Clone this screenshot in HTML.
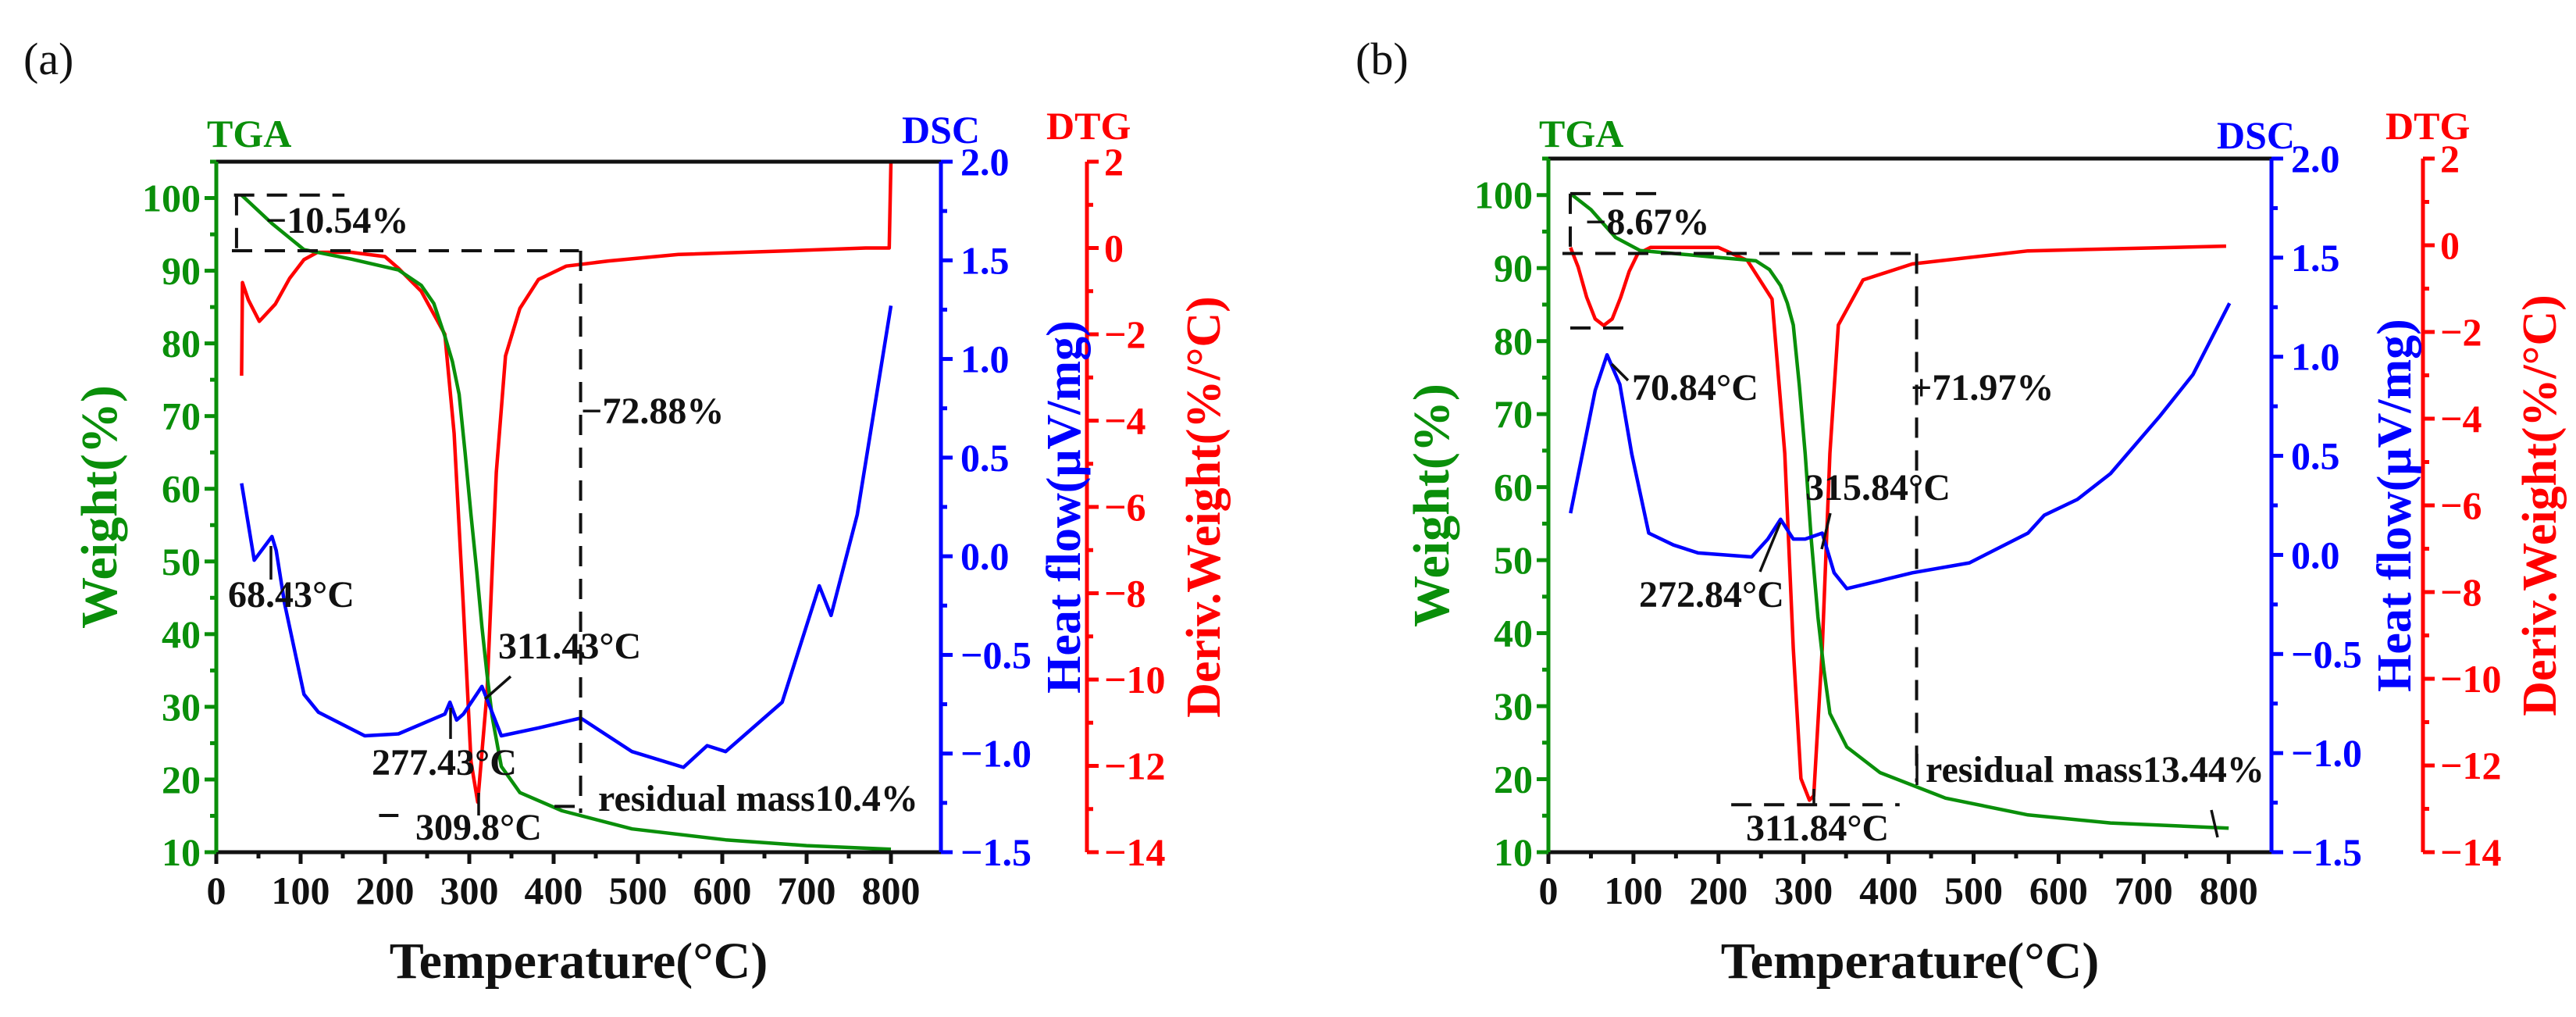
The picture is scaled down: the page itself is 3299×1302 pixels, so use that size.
<!DOCTYPE html>
<html>
<head>
<meta charset="utf-8">
<style>
html,body{margin:0;padding:0;background:#fff;}
svg{display:block;}
text{font-family:"Liberation Serif","DejaVu Serif",serif;font-weight:bold;}
</style>
</head>
<body>
<svg id="fig" xmlns="http://www.w3.org/2000/svg" width="3299" height="1302" viewBox="0 0 3299 1302">
<rect x="0" y="0" width="3299" height="1302" fill="#fff"/>
</svg>
<script>
// ---------- data (panel a) ----------
const tgaA_T = [30,66,104,160,216,243,258,271,280,288,295,302,309,315,321,327,338,360,410,493,604,700,800];
const tgaA_W = [100.4,96.5,92.9,91.6,90.1,88,85.5,81,77.5,73,65,56.4,48.5,41,34.5,28.7,21.8,18.2,15.7,13.2,11.7,10.9,10.4];
const dtgA_T = [30,31,38,51,70,87,104,120,160,200,216,243,271,282,293,302,310,321,332,343,360,382,415,465,548,700,770,798,800];
const dtgA_V = [-2.96,-0.8,-1.2,-1.7,-1.3,-0.7,-0.27,-0.1,-0.1,-0.2,-0.47,-1.0,-2.0,-4.3,-8.3,-11.9,-12.84,-10.3,-5.2,-2.5,-1.4,-0.73,-0.42,-0.3,-0.15,-0.05,0,0,2];
const dscA_T = [30,45,66,71,81,104,121,176,216,271,277,285,293,315,338,382,432,493,554,582,604,671,715,729,760,800];
const dscA_V = [0.37,-0.02,0.1,0.03,-0.24,-0.7,-0.79,-0.91,-0.9,-0.8,-0.74,-0.83,-0.8,-0.66,-0.91,-0.87,-0.82,-0.99,-1.07,-0.96,-0.99,-0.74,-0.15,-0.3,0.21,1.27];
// ---------- data (panel b) ----------
const tgaB_T = [26,50,79,108,196,244,260,273,281,288,295,302,309,317,324,331,351,390,467,564,661,800];
const tgaB_W = [100.2,98,94.2,92.4,91.5,91,89.8,87.6,85.2,82.2,74,64.5,53,42.2,35,29,24.4,20.9,17.4,15.1,14,13.3];
const dtgB_T = [26,35,45,55,65,75,85,95,105,120,200,234,263,278,288,297,307,312,322,331,341,370,428,564,797];
const dtgB_V = [-0.05,-0.5,-1.2,-1.7,-1.85,-1.7,-1.2,-0.6,-0.2,-0.05,-0.05,-0.35,-1.24,-4.8,-9.3,-12.3,-12.8,-12.7,-9.3,-4.8,-1.84,-0.8,-0.43,-0.13,-0.02];
const dscB_T = [26,40,55,69,84,98,118,147,176,239,258,273,288,302,322,336,351,390,428,495,564,583,622,661,719,758,801];
const dscB_V = [0.21,0.51,0.83,1.01,0.86,0.51,0.11,0.05,0.01,-0.01,0.08,0.18,0.08,0.08,0.11,-0.09,-0.17,-0.13,-0.09,-0.04,0.11,0.2,0.28,0.41,0.7,0.91,1.27];
// ---------- tick arrays ----------
const tempTicks = [0,100,200,300,400,500,600,700,800];
const tempMinor = [50,150,250,350,450,550,650,750];
const weightTicks = [10,20,30,40,50,60,70,80,90,100];
const weightMinor = [15,25,35,45,55,65,75,85,95,105];
const dscTicks = [-1.5,-1.0,-0.5,0.0,0.5,1.0,1.5,2.0];
const dscLabels = ["\u22121.5","\u22121.0","\u22120.5","0.0","0.5","1.0","1.5","2.0"];
const dscMinor = [-1.25,-0.75,-0.25,0.25,0.75,1.25,1.75];
const dtgTicks = [-14,-12,-10,-8,-6,-4,-2,0,2];
const dtgLabels = ["\u221214","\u221212","\u221210","\u22128","\u22126","\u22124","\u22122","0","2"];
const dtgMinor = [-13,-11,-9,-7,-5,-3,-1,1];
// dashed guide lines in data units [t1,w1,t2,w2]
const guidesA = [[21,100.4,152,100.4],[24,100.4,24,92.75],[18.5,92.75,430,92.75],[432,92.75,432,15.4],[193,15.05,216,15.05],[401,16.3,438,16.3]];
const guidesB = [[25.7,100.2,132,100.2],[25.7,100.2,25.7,92],[16.5,92,433,92],[433,92,433,19.6],[25.7,81.8,98,81.8],[215,16.5,413,16.5]];

const NS = "http://www.w3.org/2000/svg";
const svg = document.getElementById('fig');
const GREEN = "#0a8f0a", BLUE = "#0000ff", RED = "#ff0000";

function mk(tag, attrs, parent) {
  const e = document.createElementNS(NS, tag);
  for (const k in attrs) e.setAttribute(k, attrs[k]);
  (parent || svg).appendChild(e);
  return e;
}
function txt(s, x, y, size, color, anchor, parent, rot) {
  const t = mk('text', {x: x, y: y, 'font-size': size, fill: color, 'text-anchor': anchor || 'start'}, parent);
  if (rot) t.setAttribute('transform', 'rotate(-90 ' + x + ' ' + y + ')');
  t.textContent = s;
  return t;
}

function panel(cfg) {
  const g = mk('g', {});
  
  
  const H = cfg.bottom - cfg.top;
  const sx = t => cfg.x0 + t * cfg.kx;
  const sw = w => cfg.bottom - (w - 10) / 95 * H;
  const sd = v => cfg.bottom - (v + 1.5) / 3.5 * H;
  const sg = v => cfg.bottom - (v + 14) / 16 * H;

  function line(T, V, sy, color, name) {
    let d = '';
    for (let i = 0; i < T.length; i++) d += (i ? 'L' : 'M') + sx(T[i]).toFixed(1) + ' ' + sy(V[i]).toFixed(1);
    const p = mk('path', {d: d, fill: 'none', stroke: color, 'stroke-width': 4.5, 'stroke-linejoin': 'round'}, g);
    
    
  }
  line(cfg.dtgT, cfg.dtgV, sg, RED, 'dtg-curve');
  line(cfg.tgaT, cfg.tgaW, sw, GREEN, 'tga-curve');
  line(cfg.dscT, cfg.dscV, sd, BLUE, 'dsc-curve');

  cfg.guides.forEach(q => {
    const l = mk('line', {x1: sx(q[0]), y1: sw(q[1]), x2: sx(q[2]), y2: sw(q[3]), stroke: '#111', 'stroke-width': 4, 'stroke-dasharray': '26 16'}, g);
    
    
  });

  const top = mk('line', {x1: cfg.x0, y1: cfg.top, x2: cfg.right, y2: cfg.top, stroke: '#111', 'stroke-width': 5}, g);
   
  const xa = mk('line', {x1: cfg.x0, y1: cfg.bottom, x2: cfg.right, y2: cfg.bottom, stroke: '#111', 'stroke-width': 5}, g);
   
  const ya = mk('line', {x1: cfg.x0, y1: cfg.top, x2: cfg.x0, y2: cfg.bottom, stroke: GREEN, 'stroke-width': 5}, g);
   
  const da = mk('line', {x1: cfg.right, y1: cfg.top, x2: cfg.right, y2: cfg.bottom, stroke: BLUE, 'stroke-width': 5}, g);
   
  const ga = mk('line', {x1: cfg.dtgX, y1: cfg.top, x2: cfg.dtgX, y2: cfg.bottom, stroke: RED, 'stroke-width': 5}, g);
   

  tempTicks.forEach(t => {
    mk('line', {x1: sx(t), y1: cfg.bottom, x2: sx(t), y2: cfg.bottom + 15, stroke: '#111', 'stroke-width': 5}, g);
    const l = txt(String(t), sx(t), cfg.bottom + 66, 50, '#111', 'middle', g);
     
  });
  tempMinor.forEach(t => mk('line', {x1: sx(t), y1: cfg.bottom, x2: sx(t), y2: cfg.bottom + 8, stroke: '#111', 'stroke-width': 5}, g));
  weightTicks.forEach(w => {
    mk('line', {x1: cfg.x0 - 15, y1: sw(w), x2: cfg.x0, y2: sw(w), stroke: GREEN, 'stroke-width': 5}, g);
    const l = txt(String(w), cfg.x0 - 20, sw(w) + 17, 50, GREEN, 'end', g);
     
  });
  weightMinor.forEach(w => mk('line', {x1: cfg.x0 - 8, y1: sw(w), x2: cfg.x0, y2: sw(w), stroke: GREEN, 'stroke-width': 5}, g));
  dscTicks.forEach((v, i) => {
    mk('line', {x1: cfg.right, y1: sd(v), x2: cfg.right + 15, y2: sd(v), stroke: BLUE, 'stroke-width': 5}, g);
    const l = txt(dscLabels[i], cfg.right + 25, sd(v) + 17, 50, BLUE, 'start', g);
     
  });
  dscMinor.forEach(v => mk('line', {x1: cfg.right, y1: sd(v), x2: cfg.right + 8, y2: sd(v), stroke: BLUE, 'stroke-width': 5}, g));
  dtgTicks.forEach((v, i) => {
    mk('line', {x1: cfg.dtgX, y1: sg(v), x2: cfg.dtgX + 15, y2: sg(v), stroke: RED, 'stroke-width': 5}, g);
    const l = txt(dtgLabels[i], cfg.dtgX + 22, sg(v) + 17, 50, RED, 'start', g);
     
  });
  dtgMinor.forEach(v => mk('line', {x1: cfg.dtgX, y1: sg(v), x2: cfg.dtgX + 8, y2: sg(v), stroke: RED, 'stroke-width': 5}, g));

  const mid = (cfg.top + cfg.bottom) / 2;
  let t;
  t = txt('Temperature(\u00B0C)', (cfg.x0 + cfg.right) / 2, 1252, 66, '#111', 'middle', g);
   
  t = txt('Weight(%)', cfg.x0 - 128, mid, 66, GREEN, 'middle', g, true);
   
  t = txt('Heat flow(\u03BCV/mg)', cfg.right + 178, mid, 62, BLUE, 'middle', g, true);
   
  t = txt('Deriv.Weight(%/\u00B0C)', cfg.dtgX + 170, mid, 62, RED, 'middle', g, true);
   
  t = txt('TGA', cfg.x0 - 12, 188, 50, GREEN, 'start', g);
   
  t = txt('DSC', cfg.dscLblX, cfg.dscLblY, 50, BLUE, 'start', g);
   
  t = txt('DTG', cfg.dtgLblX, 178, 50, RED, 'start', g);
   
  t = txt(cfg.letter, cfg.x0 - 247, 95, 58, '#111', 'start', g);
  t.setAttribute('style', 'font-weight:normal');
   

  cfg.notes.forEach(n => {
    const a = txt(n[0], n[1], n[2], 48, '#111', 'start', g);
    
    
  });
  cfg.pointers.forEach(p => {
    const l = mk('line', {x1: p[0], y1: p[1], x2: p[2], y2: p[3], stroke: '#111', 'stroke-width': 3.5}, g);
    
    
  });
}

panel({
  name: 'panel-a', letter: '(a)', x0: 277, kx: 1.08, right: 1205, top: 207, bottom: 1091, dtgX: 1392,
  dscLblX: 1155, dscLblY: 183, dtgLblX: 1340,
  tgaT: tgaA_T, tgaW: tgaA_W, dtgT: dtgA_T, dtgV: dtgA_V, dscT: dscA_T, dscV: dscA_V, guides: guidesA,
  notes: [['\u221210.54%', 340, 298], ['\u221272.88%', 744, 542], ['68.43\u00B0C', 292, 777], ['277.43\u00B0C', 476, 992],
          ['311.43\u00B0C', 638, 843], ['309.8\u00B0C', 532, 1075], ['residual mass10.4%', 766, 1038]],
  pointers: [[347, 699, 347, 742], [577, 906, 577, 946], [654, 866, 621, 895], [613, 1015, 613, 1044]]
});
panel({
  name: 'panel-b', letter: '(b)', x0: 1983, kx: 1.089, right: 2909, top: 203, bottom: 1091, dtgX: 3103,
  dscLblX: 2839, dscLblY: 190, dtgLblX: 3055,
  tgaT: tgaB_T, tgaW: tgaB_W, dtgT: dtgB_T, dtgV: dtgB_V, dscT: dscB_T, dscV: dscB_V, guides: guidesB,
  notes: [['\u22128.67%', 2030, 300], ['70.84\u00B0C', 2090, 512], ['+71.97%', 2447, 512], ['315.84\u00B0C', 2312, 640],
          ['272.84\u00B0C', 2099, 777], ['311.84\u00B0C', 2236, 1076], ['residual mass13.44%', 2466, 1001]],
  pointers: [[2064, 466, 2085, 487], [2344, 657, 2333, 703], [2254, 732, 2280, 669], [2323, 1010, 2323, 1030],
             [2455, 965, 2455, 1005], [2832, 1037, 2840, 1072]]
});
</script>
</body>
</html>
